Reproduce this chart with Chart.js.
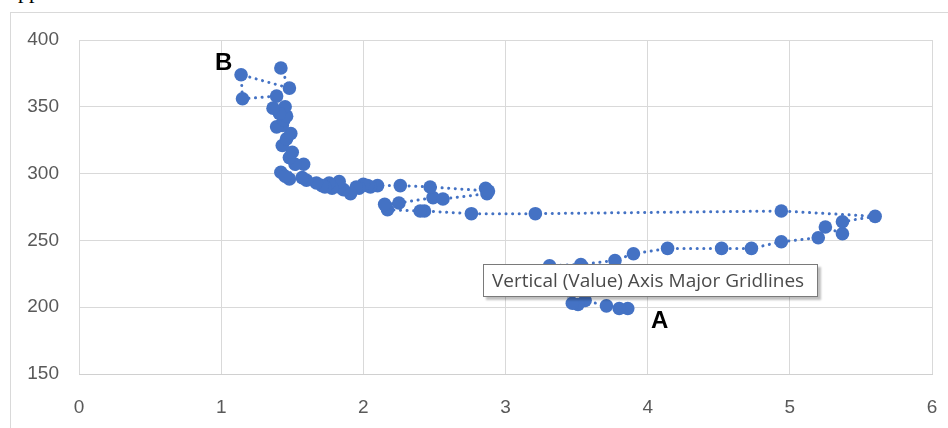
<!DOCTYPE html>
<html>
<head>
<meta charset="utf-8">
<script src="https://cdn.jsdelivr.net/npm/chart.js@4/dist/chart.umd.min.js"></script>
<style>
  body { margin: 0; background: #fff; width: 948px; height: 428px; overflow: hidden; position: relative; }
  #frame { position: absolute; left: 10px; top: 12px; width: 960px; height: 440px; border: 1px solid #d9d9d9; }
  #wrap { position: absolute; left: 0; top: 0; width: 948px; height: 428px; }
  .lbl { position: absolute; font-family: "Liberation Sans", Arial, sans-serif; font-weight: bold; font-size: 24px; color: #000; }
  #tip { position: absolute; left: 483px; top: 264px; width: 335px; height: 33px; border: 1px solid #7a7a7a; background: #fff;
         box-shadow: 3px 3px 2px rgba(0,0,0,0.25); font-family: "Open Sans", "Noto Sans", sans-serif; font-size: 19px;
         color: #4a4a4a; line-height: 31px; padding-left: 8px; box-sizing: border-box; white-space: nowrap; }
  #pp { position: absolute; left: 18px; top: -21px; font-family: "Liberation Serif", serif; font-size: 22px; line-height: 23px; color: #000; }
</style>
</head>
<body>
<div id="pp">pp</div>
<div id="frame"></div>
<div id="wrap"><canvas id="grafico" width="948" height="428"></canvas></div>
<div class="lbl" style="left:215px; top:48px;">B</div>
<div class="lbl" style="left:651px; top:306px;">A</div>
<div id="tip">Vertical (Value) Axis Major Gridlines</div>
<script>
// dados
const valoresX = [3.86, 3.80, 3.71, 3.56, 3.51, 3.47, 3.31, 3.53, 3.77, 3.90, 4.14, 4.52, 4.73, 4.94, 5.20, 5.25, 5.37, 5.37, 5.60,
  4.94, 3.21, 2.76, 2.43, 2.40, 2.17, 2.15, 2.25, 2.49, 2.56, 2.87, 2.86, 2.88, 2.47, 2.26, 2.10, 2.05, 2.03, 2.00, 1.97, 1.95, 1.91, 1.86, 1.83, 1.83,
  1.78, 1.76, 1.73, 1.71, 1.67, 1.60, 1.57, 1.48, 1.42, 1.45, 1.58, 1.52, 1.48, 1.50, 1.43, 1.46, 1.49, 1.43, 1.39, 1.44, 1.46, 1.45, 1.41, 1.365, 1.39, 1.15, 1.14, 1.48, 1.42];
const valoresY = [199, 199, 201, 205, 202, 203, 231, 232, 235, 240, 244, 244, 244, 249, 252, 260, 255, 264, 268,
  272, 270, 270, 272, 272, 273, 277, 278, 282, 281, 285, 289, 287, 290, 291, 291, 290, 291, 292, 289, 290, 285, 288, 290, 294,
  289, 293, 290, 291, 293, 295, 297, 296, 301, 298, 307, 307, 312, 316, 321, 326, 330, 336, 335, 340, 343, 350, 345, 349, 358, 356, 374, 364, 379];
const ticksX = [0, 1, 2, 3, 4, 5, 6];
const ticksY = [150, 200, 250, 300, 350, 400];

const pontos = valoresX.map((x, i) => ({ x: x, y: valoresY[i] }));
const fonteEixo = { family: "'Liberation Sans', Arial, sans-serif", size: 19 };

new Chart(document.getElementById('grafico').getContext('2d'), {
  type: 'scatter',
  data: {
    datasets: [{
      data: pontos,
      showLine: true,
      borderColor: '#4472C4',
      backgroundColor: '#4472C4',
      borderWidth: 3,
      borderDash: [0.1, 6.5],
      borderCapStyle: 'round',
      pointRadius: 6.8,
      pointBorderWidth: 0,
      pointBackgroundColor: '#4472C4',
      tension: 0
    }]
  },
  options: {
    responsive: false,
    animation: false,
    layout: { autoPadding: false, padding: { top: 40, right: 16, left: 0, bottom: 0 } },
    plugins: { legend: { display: false }, tooltip: { enabled: false } },
    scales: {
      x: {
        type: 'linear',
        min: ticksX[0],
        max: ticksX[ticksX.length - 1],
        ticks: { stepSize: 1, color: '#595959', font: fonteEixo, padding: 22 },
        grid: { color: '#d9d9d9', drawTicks: false },
        border: { color: '#d0d0d0' },
        afterFit: s => { s.height = 54; s.paddingLeft = 0; s.paddingRight = 0; }
      },
      y: {
        min: ticksY[0],
        max: ticksY[ticksY.length - 1],
        ticks: { stepSize: 50, color: '#595959', font: fonteEixo, padding: 20 },
        grid: { color: '#d9d9d9', drawTicks: false },
        border: { display: false },
        afterFit: s => { s.width = 79; s.paddingTop = 0; s.paddingBottom = 0; }
      }
    }
  }
});
</script>
</body>
</html>
